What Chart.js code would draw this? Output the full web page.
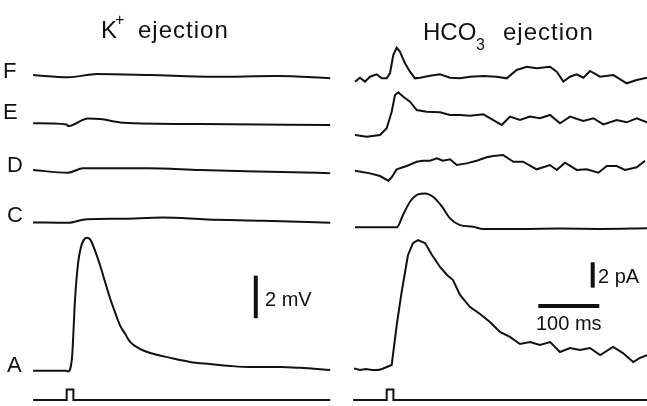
<!DOCTYPE html>
<html>
<head>
<meta charset="utf-8">
<script src="https://cdn.jsdelivr.net/npm/chart.js@4"></script>
<style>
  html, body { margin: 0; padding: 0; background: #fff; }
  #wrap { position: relative; width: 647px; height: 406px; }
</style>
</head>
<body>
<div id="wrap"><canvas id="traces" width="647" height="406"></canvas></div>
<script>
// time in ms from the start of the ejection pulse
// K+ ejection traces, values in mV
const kFTime = [-55, 2, 50, 137, 240, 345, 432];
const kFmV = [0, -0.11, 0.05, 0, -0.08, -0.05, -0.15];
const kETime = [-55, 0, 2, 35, 55, 92, 219, 432];
const kEmV = [0, -0.05, -0.13, 0.23, 0.2, 0.03, -0.03, -0.08];
const kDTime = [-55, 2, 27, 132, 219, 333, 432];
const kDmV = [0, -0.13, 0.08, 0.08, 0, -0.08, -0.15];
const kCTime = [-55, 2, 33, 87, 158, 230, 322, 432];
const kCmV = [0, -0.02, 0.15, 0.17, 0.23, 0.14, 0.08, -0.02];
const kATime = [-55, 0, 2, 8.7, 13.6, 18.5, 23.4, 28.4, 32.8, 38, 46, 54.6, 63, 71, 79, 87, 96, 104, 120, 137, 170, 202, 235, 268, 301, 350, 383, 432];
const kAmV = [0, 0, -0.04, 0.6, 3.3, 5.0, 5.8, 6.15, 6.24, 6.18, 5.67, 4.96, 4.16, 3.41, 2.76, 2.15, 1.72, 1.35, 1.02, 0.83, 0.6, 0.41, 0.31, 0.22, 0.17, 0.17, 0.13, 0.03];

// HCO3 ejection traces, values in pA
const hFTime = [-51.9, -43.8, -35.6, -27.4, -16.4, -8.2, 0, 5.4, 10.8, 16.4, 21.8, 30, 38.2, 46.4, 54.6, 71, 87.4, 103.8, 120.2, 136.6, 158.4, 180.3, 196.7, 213.1, 229.5, 245.9, 267.7, 278.7, 289.6, 300.5, 311.5, 322.4, 333.3, 349.7, 371.6, 393.4, 409.8, 426.7];
const hFpA = [-0.13, 0.18, -0.13, 0.26, 0.45, 0.13, 0.13, 0.53, 1.97, 2.55, 2.23, 1.32, 0.66, 0.13, 0.18, 0.34, 0.45, 0.18, 0.13, 0.26, 0.32, 0.26, 0.13, 0.79, 1.05, 0.92, 1.05, 0.66, -0.13, 0.26, 0.45, 0.18, 0.71, 0.26, 0.39, -0.26, 0, 0.18];
const hETime = [-51.9, -32.8, -11, 0, 8.2, 13.6, 19, 27.2, 38.2, 49.2, 65.6, 87.4, 103.8, 120.2, 136.6, 158.4, 174.8, 188.5, 202.1, 218.5, 234.9, 251.3, 267.7, 284.1, 300.5, 322.3, 338.7, 355.1, 377, 393.4, 409.8, 426.7];
const hEpA = [0, -0.13, 0, 0.53, 1.84, 3.16, 3.37, 3.02, 2.63, 1.97, 1.84, 1.79, 1.58, 1.58, 1.52, 1.63, 1.18, 0.79, 1.45, 1.18, 1.45, 1.32, 1.58, 0.92, 1.45, 1.10, 1.32, 0.84, 1.18, 1.0, 1.32, 1.0];
const hDTime = [-51.9, -27.4, -11, 2.6, 8.2, 16.4, 32.8, 49.2, 59.5, 71, 82, 92.3, 103.8, 114.8, 131.1, 147.5, 163.9, 174.8, 190.7, 207.7, 223.4, 245.9, 267.7, 278.7, 292.3, 311.5, 327.9, 347, 360.8, 377, 390.7, 409.9, 423.4];
const hDpA = [0, -0.21, -0.42, -0.79, -0.52, 0.11, 0.37, 0.71, 0.79, 0.79, 0.98, 0.79, 0.9, 0.45, 0.58, 0.79, 1.06, 1.16, 1.24, 0.71, 0.71, 0.11, 0.45, 0.06, 0.63, 0.06, 0.11, -0.16, 0.37, 0.37, 0.06, 0.27, 0.79];
const hCTime = [-52, 16.4, 26.7, 38.2, 51.3, 62.8, 75.9, 90.7, 103.8, 120.2, 141.5, 157.9, 218.5, 284, 350, 427];
const hCpA = [0, 0, 0.97, 2.02, 2.6, 2.68, 2.41, 1.63, 0.71, 0.18, 0.05, -0.13, -0.13, -0.1, -0.13, -0.08];
const hATime = [-53.6, -43.8, -34, -24, -14, -7.7, 8.2, 16.4, 24.6, 34.9, 43.1, 51.3, 62.8, 74.3, 87.4, 98.9, 108.7, 120.2, 136.6, 153, 169.3, 185.7, 202, 218.5, 235, 251, 268, 284, 300.5, 317, 333, 350, 371, 387.4, 404, 415, 427];
const hApA = [0.09, -0.04, 0.04, -0.04, -0.04, 0.04, 0.36, 3.51, 6.14, 9.04, 9.98, 10.22, 9.98, 9.04, 8.09, 7.46, 7.06, 5.88, 4.93, 4.38, 3.75, 2.96, 2.57, 2.01, 2.17, 1.93, 2.17, 1.38, 1.7, 1.54, 1.7, 1.14, 1.78, 1.3, 0.59, 0.91, 1.14];

// ejection pulse (0 = off, 1 = on)
const pulseTime = [-55, 0, 0, 11, 11, 432];
const pulseOn = [0, 0, 1, 1, 0, 0];

// scale bars
const barmV = 2;
const barpA = 2;
const barms = 100;

// layout: where each row sits (axis units), and the gap between panels (ms)
const rightShift = 524.6;
const kRow = { F: 15.54, E: 13.27, D: 11.08, C: 8.62, A: 1.66 };
const hRow = { F: 25.73, E: 21.39, D: 18.57, C: 14.10, A: 2.88 };
const pulseRow = 0.28, pulseHeight = 0.5;

function pts(times, vals, shift, base) {
  return times.map((t, i) => ({ x: t + shift, y: vals[i] + base }));
}

function trace(data, axis, smooth) {
  return {
    data: data,
    yAxisID: axis,
    borderColor: '#111',
    borderWidth: 2,
    pointRadius: 0,
    fill: false,
    clip: false,
    tension: smooth ? 0.4 : 0,
    cubicInterpolationMode: smooth ? 'monotone' : 'default'
  };
}

function bar(data, axis) {
  return {
    data: data,
    yAxisID: axis,
    borderColor: '#111',
    borderWidth: 4,
    borderCapStyle: 'butt',
    pointRadius: 0,
    fill: false,
    clip: false
  };
}

const pulseVals = pulseOn.map(v => v * pulseHeight);

const datasets = [
  trace(pts(kFTime, kFmV, 0, kRow.F), 'mV', true),
  trace(pts(kETime, kEmV, 0, kRow.E), 'mV', true),
  trace(pts(kDTime, kDmV, 0, kRow.D), 'mV', true),
  trace(pts(kCTime, kCmV, 0, kRow.C), 'mV', true),
  trace(pts(kATime, kAmV, 0, kRow.A), 'mV', true),
  trace(pts(hFTime, hFpA, rightShift, hRow.F), 'pA', false),
  trace(pts(hETime, hEpA, rightShift, hRow.E), 'pA', false),
  trace(pts(hDTime, hDpA, rightShift, hRow.D), 'pA', false),
  trace(pts(hCTime, hCpA, rightShift, hRow.C), 'pA', true),
  trace(pts(hATime, hApA, rightShift, hRow.A), 'pA', false),
  trace(pts(pulseTime, pulseVals, 0, pulseRow), 'mV', false),
  trace(pts(pulseTime, pulseVals, rightShift, pulseRow), 'mV', false),
  bar([{ x: 310, y: 4.12 }, { x: 310, y: 4.12 + barmV }], 'mV'),
  bar([{ x: rightShift + 337.7, y: 9.34 }, { x: rightShift + 337.7, y: 9.34 + barpA }], 'pA'),
  bar([{ x: rightShift + 248.5, y: 7.89 }, { x: rightShift + 248.5 + barms, y: 7.89 }], 'pA')
];

const FONT = '"Liberation Sans", Arial, Helvetica, sans-serif';

const labelsPlugin = {
  id: 'labels',
  afterDraw(chart) {
    const c = chart.ctx;
    c.save();
    c.fillStyle = '#111';
    c.textBaseline = 'alphabetic';

    // titles
    c.font = '24px ' + FONT;
    c.fillText('K', 101, 38);
    c.fillText('HCO', 423, 40);
    c.letterSpacing = '1px';
    c.fillText('ejection', 138, 38);
    c.fillText('ejection', 503, 40);
    c.letterSpacing = '0px';
    c.font = '16px ' + FONT;
    c.fillText('+', 115, 25);
    c.fillText('3', 476, 50);

    // row names
    c.font = '22px ' + FONT;
    c.fillText('F', 3, 78);
    c.fillText('E', 3, 119);
    c.fillText('D', 7, 172);
    c.fillText('C', 7, 222);
    c.fillText('A', 7, 372);

    // scale bar labels
    c.font = '20px ' + FONT;
    c.fillText('2 mV', 265, 306);
    c.fillText('2 pA', 598, 283);
    c.fillText('100 ms', 536, 330);
    c.restore();
  }
};

new Chart(document.getElementById('traces'), {
  type: 'line',
  data: { datasets: datasets },
  options: {
    responsive: false,
    animation: false,
    events: [],
    layout: { padding: 0 },
    plugins: { legend: { display: false }, tooltip: { enabled: false } },
    scales: {
      x: { type: 'linear', min: -109.3, max: 951.3, display: false },
      mV: { type: 'linear', position: 'left', min: 0, max: 406 / 21.3, display: false },
      pA: { type: 'linear', position: 'right', min: 0, max: 406 / 12.67, display: false }
    }
  },
  plugins: [labelsPlugin]
});
</script>
</body>
</html>
